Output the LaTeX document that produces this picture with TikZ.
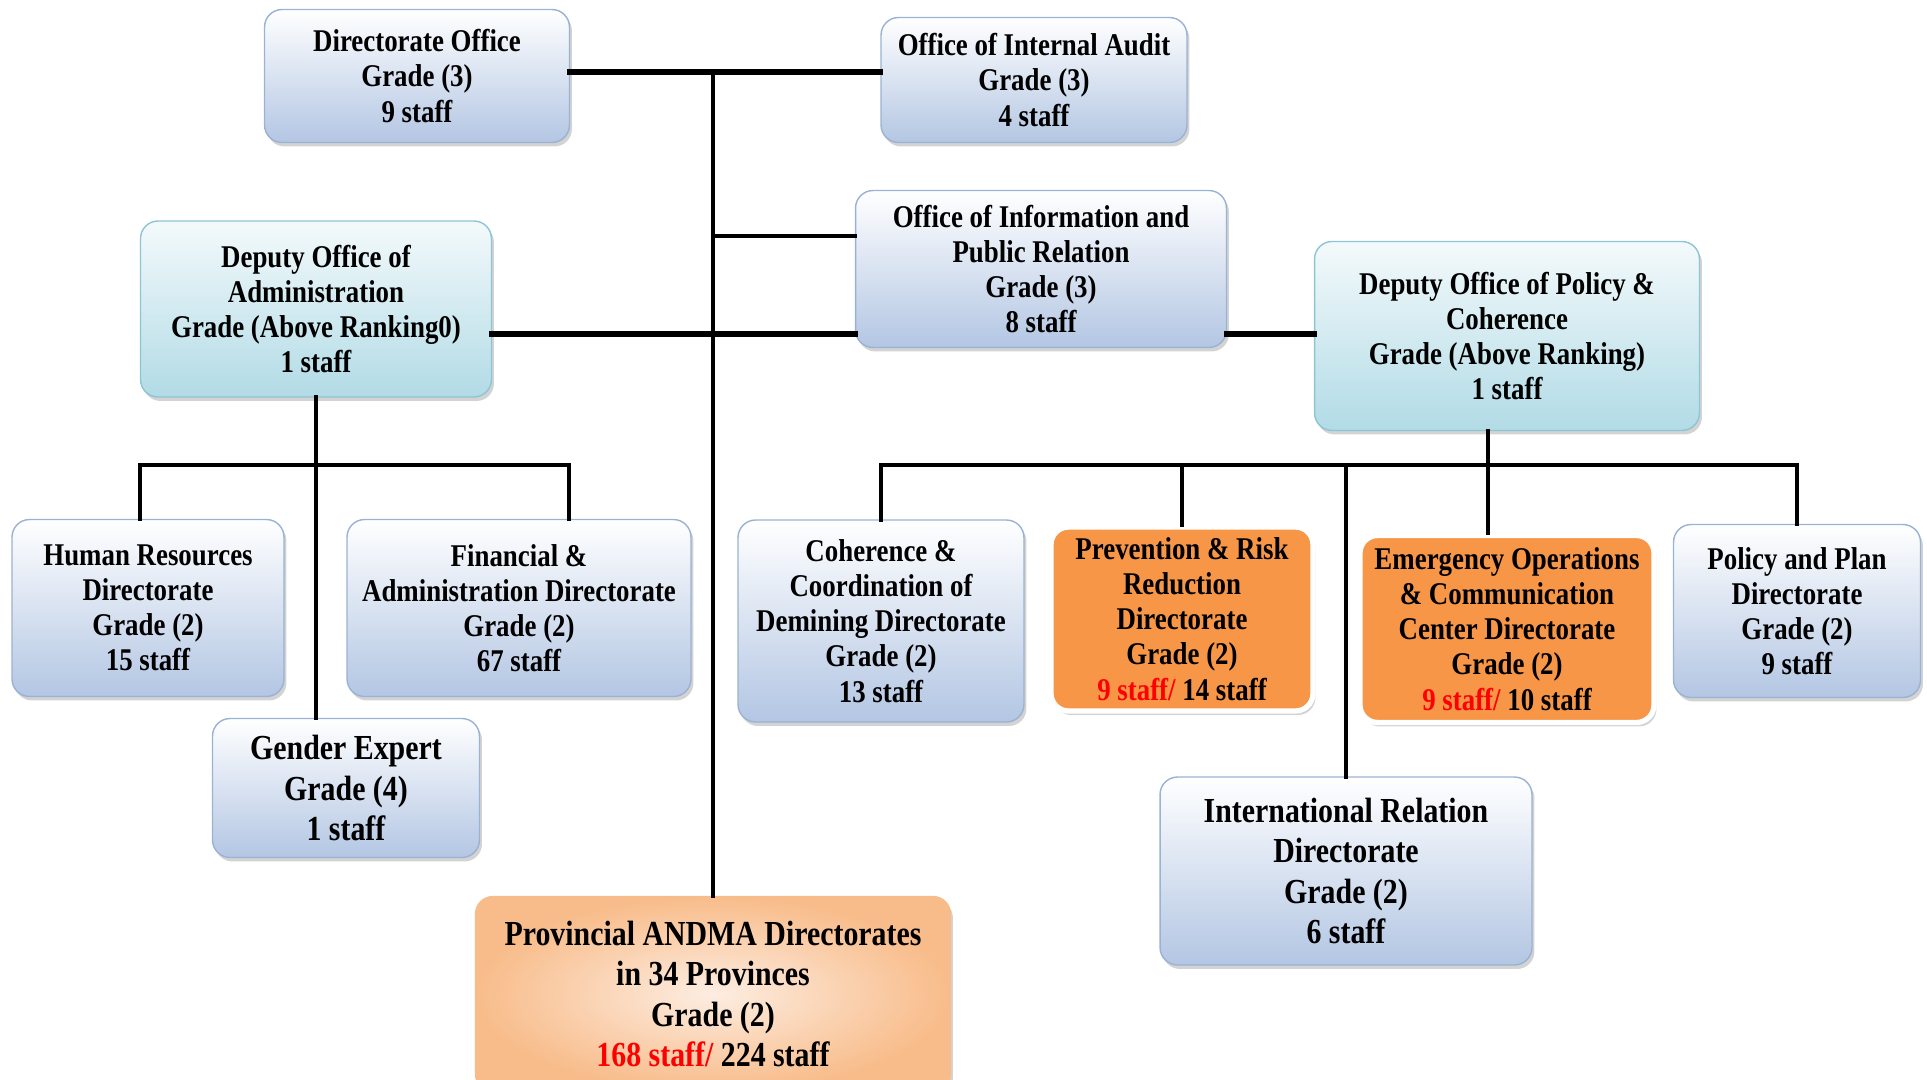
\documentclass[tikz,border=0pt]{standalone}
\usepackage{fontspec}
\setmainfont{Liberation Serif}[FakeStretch=0.85]
\usepackage{xcolor}
\usepackage{tikz}
\usetikzlibrary{positioning}
\usetikzlibrary{shadows}
\definecolor{boxblue}{HTML}{B3C6E3}
\definecolor{boxedge}{HTML}{9AB2D3}
\definecolor{deputycyan}{HTML}{B2DBE6}
\definecolor{deputyedge}{HTML}{8DC5D5}
\definecolor{hotorange}{HTML}{F79646}
\definecolor{provout}{HTML}{F8BC8A}
\definecolor{provin}{HTML}{FDEDE1}
\newcommand{\filled}[1]{%
\textcolor{red}{#1}%
}
\tikzset {
  % every box of the chart
  orgbox/.style = {rounded corners=0.35cm, align=center, inner sep=2pt,
    font=\bfseries\fontsize{18}{20}\selectfont,
    drop shadow={shadow xshift=0.05cm, shadow yshift=-0.08cm, opacity=0.35, fill=gray}},
  % bigger lettering
  big/.style = {font=\bfseries\fontsize{20}{23}\selectfont},
  % plain offices and directorates
  office/.style = {orgbox, draw=boxedge, thick, top color=white, bottom color=boxblue},
  % the two deputy offices
  deputy/.style = {orgbox, draw=deputyedge, thick, top color=white!85!deputycyan, bottom color=deputycyan},
  % directorates with open posts
  hot/.style = {orgbox, draw=white, line width=3pt, fill=hotorange},
  % provinces
  prov/.style = {orgbox, big, draw=provout, thick, inner color=provin, outer color=provout},
  % connecting lines
  link/.style = {line width=2.6pt, line cap=rect},
  bus/.style = {line width=3.2pt, line cap=rect},
}

\begin{document}
\begin{tikzpicture}[x=0.02cm, y=-0.02cm]
  \useasboundingbox (0,0) rectangle (1927,1079);
  \clip (0,0) rectangle (1927,1079);

  % top level
  \node[office, minimum width=6.1cm, minimum height=2.66cm] (dir) at (417,76)
    {Directorate Office\\Grade (3)\\9 staff};
  \node[office, minimum width=6.12cm, minimum height=2.5cm] (audit) at (1034,80)
    {Office of Internal Audit\\Grade (3)\\4 staff};
  \node[office, minimum width=7.42cm, minimum height=3.14cm] (info) at (1041,269)
    {Office of Information and\\Public Relation\\Grade (3)\\8 staff};
  \node[deputy, minimum width=7.02cm, minimum height=3.52cm] (admin) at (316,309)
    {Deputy Office of\\Administration\\Grade (Above Ranking0)\\1 staff};
  \node[deputy, minimum width=7.7cm, minimum height=3.78cm] (dpol) at (1507,336)
    {Deputy Office of Policy \&\\Coherence\\Grade (Above Ranking)\\1 staff};

  % administration side
  \node[office, minimum width=5.44cm, minimum height=3.54cm] (hr) at (148,608)
    {Human Resources\\Directorate\\Grade (2)\\15 staff};
  \node[office, minimum width=6.88cm, minimum height=3.54cm] (fin) at (519,608)
    {Financial \&\\Administration Directorate\\Grade (2)\\67 staff};
  \node[office, big, minimum width=5.34cm, minimum height=2.78cm] (gender) at (346,788)
    {Gender Expert\\Grade (4)\\1 staff};

  % policy side
  \node[office, minimum width=5.72cm, minimum height=4.04cm] (coher) at (881,621)
    {Coherence \&\\Coordination of\\Demining Directorate\\Grade (2)\\13 staff};
  \node[hot, minimum width=5.24cm, minimum height=3.68cm] (prev) at (1182,619)
    {Prevention \& Risk\\Reduction\\Directorate\\Grade (2)\\\filled{9 staff/} 14 staff};
  \node[hot, minimum width=5.88cm, minimum height=3.74cm] (emerg) at (1507,629)
    {Emergency Operations\\\& Communication\\Center Directorate\\Grade (2)\\\filled{9 staff/} 10 staff};
  \node[office, minimum width=4.94cm, minimum height=3.46cm] (ppd) at (1797,611)
    {Policy and Plan\\Directorate\\Grade (2)\\9 staff};
  \node[office, big, minimum width=7.44cm, minimum height=3.76cm] (intrel) at (1346,871)
    {International Relation\\Directorate\\Grade (2)\\6 staff};

  % provinces
  \node[prov, minimum width=9.5cm, minimum height=3.9cm] (prov) at (713,994)
    {Provincial ANDMA Directorates\\in 34 Provinces\\Grade (2)\\\filled{168 staff/} 224 staff};

  % junctions on the trunk and the buses
  \coordinate (top) at (713,72);
  \coordinate (pr) at (713,236);
  \coordinate (mid) at (713,334);
  \coordinate (abus) at (316,465);
  \coordinate (pbus) at (1488,465);

  \draw[bus] (top -| dir.east) -- (top -| audit.west);
  \draw[link] (top) -- (prov.north);
  \draw[link] (pr) -- (pr -| info.west);
  \draw[bus] (mid -| admin.east) -- (mid -| info.west);
  \draw[bus] (mid -| info.east) -- (mid -| dpol.west);

  \draw[link] (admin.south) -- (admin.south |- gender.north);
  \draw[link] ([xshift=-0.16cm]hr.north) |- (abus) -| ([xshift=1cm]fin.north);

  \draw[link] (coher.north) |- (pbus) -| (ppd.north);
  \draw[link] ([xshift=-0.38cm]dpol.south) -- ([xshift=-0.38cm]emerg.north);
  \draw[link] (prev.north) -- (prev.north |- pbus);
  \draw[link] (intrel.north) -- (intrel.north |- pbus);
\end{tikzpicture}
\end{document}
